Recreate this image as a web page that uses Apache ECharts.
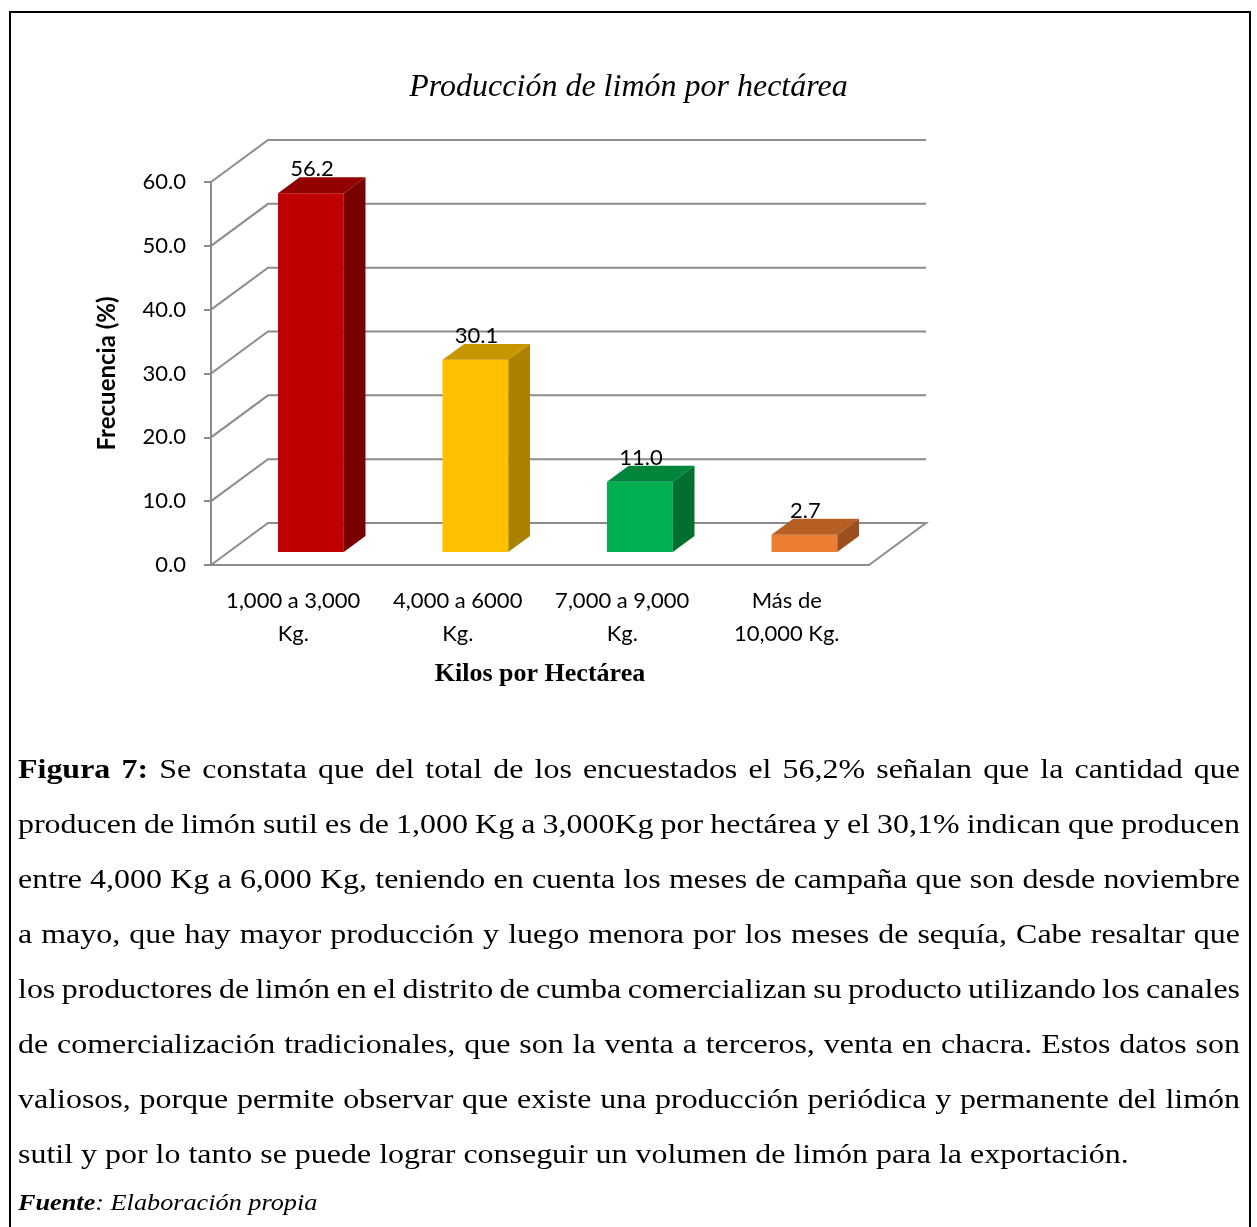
<!DOCTYPE html>
<html>
<head>
<meta charset="utf-8">
<script src="https://cdn.jsdelivr.net/npm/echarts@6/dist/echarts.min.js"></script>
<style>
  html, body { margin: 0; padding: 0; background: #fff; }
  #frame {
    position: absolute; left: 9px; top: 11px; width: 1242px; height: 1300px;
    border: 2px solid #000; box-sizing: border-box;
  }
  #chart { position: absolute; left: 0; top: 0; width: 1257px; height: 1227px; }
  .serif {
    font-family: "Liberation Serif", "Times New Roman", serif; color: #000;
    transform: scaleX(1.141); transform-origin: 0 0;
  }
  #caption {
    position: absolute; left: 18px; top: 741px; width: 1071px;
    font-size: 28px; line-height: 55px;
  }
  #caption .ln { text-align: justify; text-align-last: justify; white-space: nowrap; word-spacing: -4px; }
  #caption .ln.last { text-align: left; text-align-last: left; word-spacing: 0; }
  #fuente {
    position: absolute; left: 18px; top: 1190px;
    font-size: 23px; font-style: italic;
  }
</style>
</head>
<body>
<div id="frame"></div>
<div id="chart"></div>
<div id="caption" class="serif">
  <div class="ln"><b>Figura 7:</b> Se constata que del total de los encuestados el 56,2% señalan que la cantidad que</div>
  <div class="ln">producen de limón sutil es de 1,000 Kg a 3,000Kg por hectárea y el 30,1% indican que producen</div>
  <div class="ln">entre 4,000 Kg a 6,000 Kg, teniendo en cuenta los meses de campaña que son desde noviembre</div>
  <div class="ln">a mayo, que hay mayor producción y luego menora por los meses de sequía, Cabe resaltar que</div>
  <div class="ln">los productores de limón en el distrito de cumba comercializan su producto utilizando los canales</div>
  <div class="ln">de comercialización tradicionales, que son la venta a terceros, venta en chacra. Estos datos son</div>
  <div class="ln">valiosos, porque permite observar que existe una producción periódica y permanente del limón</div>
  <div class="ln last">sutil y por lo tanto se puede lograr conseguir un volumen de limón para la exportación.</div>
</div>
<div id="fuente" class="serif"><b>Fuente</b>: Elaboración propia</div>
<script>
const categories = ['1,000 a 3,000\nKg.', '4,000 a 6000\nKg.', '7,000 a 9,000\nKg.', 'Más de\n10,000 Kg.'];
const frecuencia = [56.2, 30.1, 11.0, 2.7];
const yTicks = [0, 10, 20, 30, 40, 50, 60];

// front / top / side shades for each bar
const palette = [
  ['#C00000', '#920000', '#780000'],
  ['#FFC000', '#C89600', '#AB8100'],
  ['#00B050', '#00853C', '#006F2F'],
  ['#ED7D31', '#B65F25', '#9C5020']
];

// depth of the fake 3d box
const DX = 57, DY = 42;
const lineColor = '#8c8c8c';
const sans = 'Lato, "Open Sans", sans-serif';

const chart = echarts.init(document.getElementById('chart'));

function renderWall(params, api) {
  const cs = params.coordSys;
  const y = api.coord([0, api.value(1)])[1];
  const x0 = cs.x, x1 = cs.x + cs.width;
  const pts = [[x0, y], [x0 + DX, y - DY], [x1 + DX, y - DY]];
  if (api.value(1) === 0) pts.push([x1, y]);
  return {
    type: 'polyline',
    shape: { points: pts },
    style: { stroke: lineColor, lineWidth: 2, fill: null }
  };
}

function renderBar(params, api) {
  const idx = params.dataIndex;
  const base = api.coord([api.value(0), 0]);
  const top = api.coord([api.value(0), api.value(1)]);
  const band = api.size([1, 0])[0];
  const w = band * 0.4;
  const ox = DX * 0.31, oy = DY * 0.31;
  const dx = DX * 0.38, dy = DY * 0.38;
  const x = base[0] + ox - w / 2;
  const by = base[1] - oy;
  const ty = top[1] - oy;
  const c = palette[idx];
  return {
    type: 'group',
    children: [
      { type: 'rect', shape: { x: x, y: ty, width: w, height: by - ty }, style: { fill: c[0] } },
      { type: 'polygon', shape: { points: [[x, ty], [x + w, ty], [x + w + dx, ty - dy], [x + dx, ty - dy]] }, style: { fill: c[1] } },
      { type: 'polygon', shape: { points: [[x + w, ty], [x + w + dx, ty - dy], [x + w + dx, by - dy], [x + w, by]] }, style: { fill: c[2] } },
      {
        type: 'text',
        style: {
          x: x + w / 2 + 1, y: ty - dy - 8,
          text: api.value(1).toFixed(1),
          fill: '#000', font: '22px ' + sans,
          align: 'center', verticalAlign: 'middle'
        }
      }
    ]
  };
}

chart.setOption({
  animation: false,
  title: {
    text: 'Producción de limón por hectárea',
    left: 'center', top: 67,
    textStyle: { fontFamily: '"Liberation Serif", serif', fontStyle: 'italic', fontWeight: 'normal', fontSize: 32, color: '#000' }
  },
  grid: { left: 211, top: 182, width: 658, height: 383 },
  xAxis: {
    type: 'category',
    data: categories,
    name: 'Kilos por Hectárea',
    nameLocation: 'middle',
    nameGap: 96,
    nameTextStyle: { fontFamily: '"Liberation Serif", serif', fontWeight: 'bold', fontSize: 26, color: '#000' },
    axisLine: { lineStyle: { color: lineColor, width: 2 } },
    axisTick: { show: false },
    axisLabel: { fontFamily: sans, fontSize: 22, lineHeight: 33, color: '#000', margin: 19, interval: 0 },
    splitLine: { show: false }
  },
  yAxis: {
    type: 'value',
    min: 0, max: 60, interval: 10,
    name: 'Frecuencia (%)',
    nameLocation: 'middle',
    nameGap: 92,
    nameRotate: 90,
    nameTextStyle: { fontFamily: sans, fontWeight: 'bold', fontSize: 24, color: '#000' },
    axisLine: { show: true, lineStyle: { color: lineColor, width: 2 } },
    axisTick: { show: true, length: 7, lineStyle: { color: lineColor, width: 2 } },
    axisLabel: { fontFamily: sans, fontSize: 22, color: '#000', margin: 25, formatter: v => v.toFixed(1) },
    splitLine: { show: false }
  },
  series: [
    {
      type: 'custom',
      renderItem: renderWall,
      data: yTicks.map(v => [0, v]),
      z: 1,
      silent: true
    },
    {
      type: 'custom',
      renderItem: renderBar,
      data: frecuencia.map((v, i) => [i, v]),
      z: 2
    }
  ]
});
</script>
</body>
</html>
